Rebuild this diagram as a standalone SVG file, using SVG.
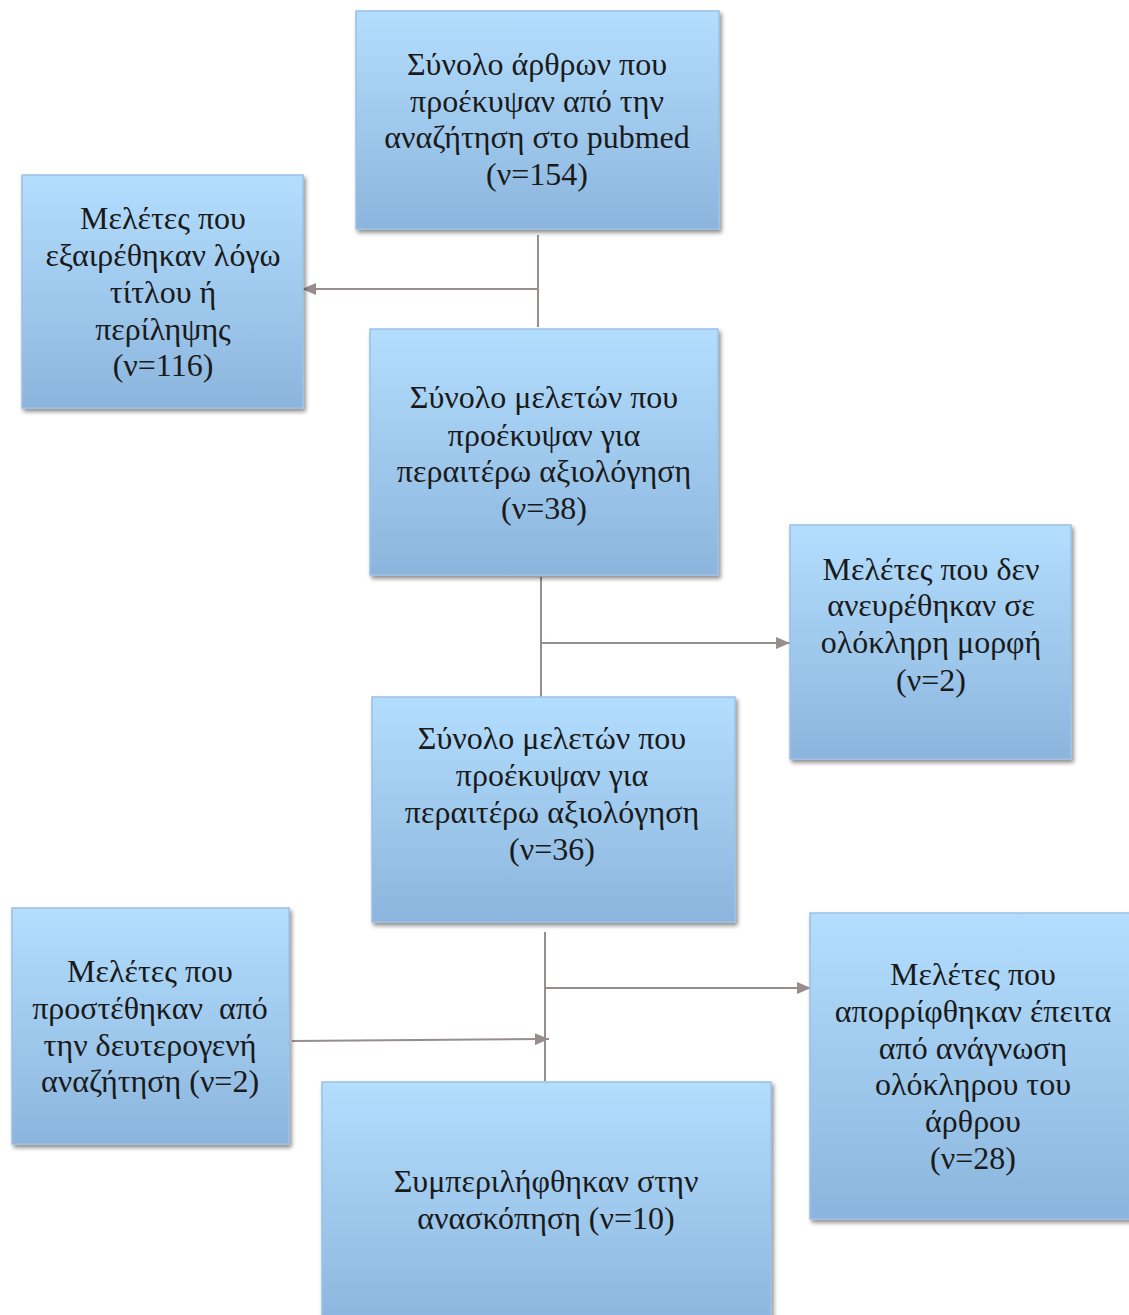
<svg xmlns="http://www.w3.org/2000/svg" width="1129" height="1315" viewBox="0 0 1129 1315">
<defs>
<linearGradient id="g" x1="0" y1="0" x2="0" y2="1">
<stop offset="0" stop-color="#B4DEFE"/>
<stop offset="1" stop-color="#8BB5DC"/>
</linearGradient>
<filter id="sh" x="-10%" y="-10%" width="125%" height="125%">
<feGaussianBlur in="SourceAlpha" stdDeviation="2"/>
<feOffset dx="2" dy="3" result="b"/>
<feComponentTransfer><feFuncA type="linear" slope="0.45"/></feComponentTransfer>
<feMerge><feMergeNode/><feMergeNode in="SourceGraphic"/></feMerge>
</filter>
<marker id="ah" markerWidth="14" markerHeight="12" refX="14" refY="6" orient="auto" markerUnits="userSpaceOnUse">
<path d="M0,0 L14,6 L0,12 Z" fill="#978D8D"/>
</marker>
</defs>
<style>
.box{fill:url(#g);stroke:#9CC0E4;stroke-width:1.5;filter:url(#sh)}
text{font-family:"Liberation Serif","DejaVu Serif",serif;font-size:32px;fill:#1a1a1a;text-anchor:middle}
.c{stroke:#978D8D;stroke-width:2;fill:none}
.a{marker-end:url(#ah)}
</style>
<rect width="1129" height="1315" fill="#fff"/>
<g id="connectors">
<line class="c" x1="538" y1="235" x2="538" y2="327"/>
<line class="c a" x1="538" y1="289" x2="302" y2="289"/>
<line class="c" x1="541" y1="577" x2="541" y2="705"/>
<line class="c a" x1="541" y1="643" x2="790" y2="643"/>
<line class="c" x1="545" y1="932" x2="545" y2="1081"/>
<line class="c a" x1="545" y1="988" x2="811" y2="988"/>
<line class="c a" x1="292" y1="1041" x2="549" y2="1039"/>
</g>
<g id="n1"><rect class="box" x="356" y="11" width="363" height="218"/>
<text x="537" y="75">Σύνολο άρθρων που</text><text x="537" y="112">προέκυψαν από την</text><text x="537" y="148">αναζήτηση στο pubmed</text><text x="537" y="185">(ν=154)</text></g>
<g id="n2"><rect class="box" x="22" y="175" width="281" height="233"/>
<text x="163" y="229">Μελέτες που</text><text x="163" y="266">εξαιρέθηκαν λόγω</text><text x="163" y="303">τίτλου ή</text><text x="163" y="340">περίληψης</text><text x="163" y="376">(ν=116)</text></g>
<g id="n3"><rect class="box" x="370" y="329" width="348" height="246"/>
<text x="544" y="408">Σύνολο μελετών που</text><text x="544" y="446">προέκυψαν για</text><text x="544" y="482">περαιτέρω αξιολόγηση</text><text x="544" y="519">(ν=38)</text></g>
<g id="n4"><rect class="box" x="790" y="525" width="281" height="234"/>
<text x="931" y="580">Μελέτες που δεν</text><text x="931" y="616">ανευρέθηκαν σε</text><text x="931" y="653">ολόκληρη μορφή</text><text x="931" y="691">(ν=2)</text></g>
<g id="n5"><rect class="box" x="372" y="697" width="363" height="225"/>
<text x="552" y="749">Σύνολο μελετών που</text><text x="552" y="786">προέκυψαν για</text><text x="552" y="823">περαιτέρω αξιολόγηση</text><text x="552" y="860">(ν=36)</text></g>
<g id="n6"><rect class="box" x="12" y="908" width="277" height="236"/>
<text x="150" y="982">Μελέτες που</text><text x="150" y="1019" xml:space="preserve">προστέθηκαν  από</text><text x="150" y="1056">την δευτερογενή</text><text x="150" y="1092">αναζήτηση (ν=2)</text></g>
<g id="n7"><rect class="box" x="810" y="913" width="324" height="306"/>
<text x="973" y="985">Μελέτες που</text><text x="973" y="1022">απορρίφθηκαν έπειτα</text><text x="973" y="1059">από ανάγνωση</text><text x="973" y="1095">ολόκληρου του</text><text x="973" y="1132">άρθρου</text><text x="973" y="1169">(ν=28)</text></g>
<g id="n8"><rect class="box" x="322" y="1082" width="449" height="245"/>
<text x="546" y="1192">Συμπεριλήφθηκαν στην</text><text x="546" y="1229">ανασκόπηση (ν=10)</text></g>
</svg>
